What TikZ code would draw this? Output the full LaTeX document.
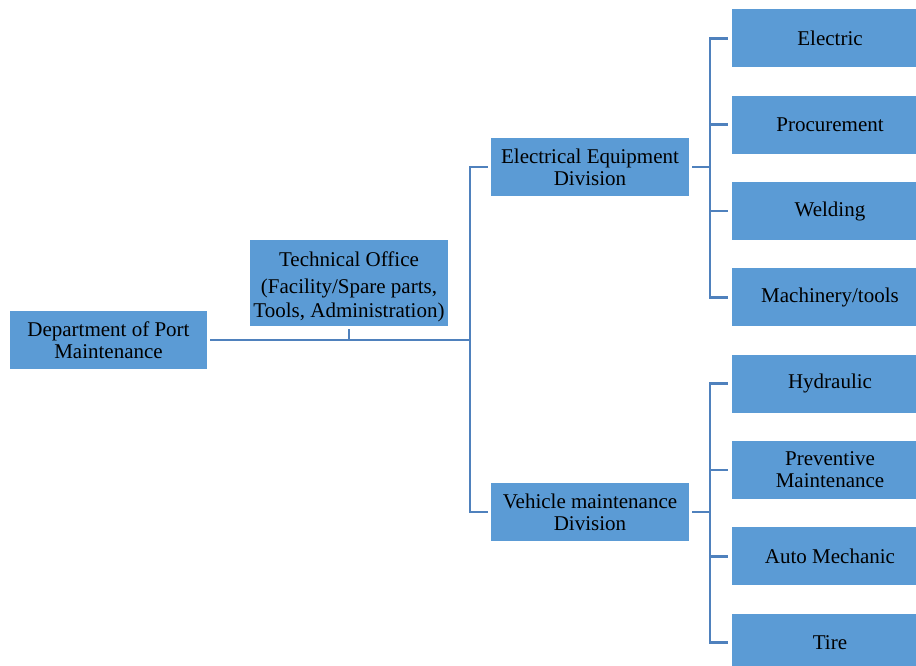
\documentclass[tikz,border=0pt]{standalone}
\usepackage{fontspec}
\setmainfont{Liberation Serif}
\definecolor{boxblue}{HTML}{5B9BD5}
\definecolor{linkblue}{HTML}{4F81BD}
\begin{document}
\begin{tikzpicture}[x=1pt,y=-1pt,
  box/.style={fill=boxblue, draw=none, inner sep=0pt, align=center,
    font=\fontsize{21}{21.8}\selectfont, text=black},
  midbox/.style={box, minimum width=198pt, minimum height=58pt},
  leafbox/.style={box, minimum width=196pt, minimum height=58pt},
  link/.style={draw=linkblue, line width=2.6pt}]
\useasboundingbox (0,0) rectangle (916,666);
\begin{scope}
\clip (0,0) rectangle (916,666);
\node[midbox, minimum width=197pt] (dept) at (108.5,340) {Department of Port\\Maintenance};
\node[midbox, minimum height=86pt] (tech) at (349,283) {\rule{0pt}{22pt}Technical Office\\[5.5pt](Facility/Spare parts,\\[1.8pt]Tools, Administration)};
\node[midbox] (elec) at (590,167) {Electrical Equipment\\Division};
\node[midbox] (veh) at (590,512) {Vehicle maintenance\\Division};
\node[leafbox] (l1) at (830,38.5) {Electric};
\node[leafbox] (l2) at (830,124.8) {Procurement};
\node[leafbox] (l3) at (830,211.1) {Welding};
\node[leafbox] (l4) at (830,297.4) {Machinery/tools};
\node[leafbox] (l5) at (830,383.7) {Hydraulic};
\node[leafbox] (l6) at (830,470) {Preventive\\Maintenance};
\node[leafbox] (l7) at (830,556.3) {Auto Mechanic};
\node[leafbox] (l8) at (830,642.6) {Tire};
\end{scope}
\coordinate (j1) at (470,340);
\coordinate (j2) at (710,167);
\coordinate (j3) at (710,512);
% main trunk
\draw[link] ([xshift=3pt]dept.east) -- (j1);
\draw[link] ([yshift=-3pt]tech.south) -- (tech.south |- j1);
\draw[link] ([xshift=-3pt]elec.west) -- (j1 |- elec) -- (j1 |- veh) -- ([xshift=-3pt]veh.west);
% electrical bracket
\draw[link] ([xshift=3pt]elec.east) -- (j2);
\draw[link] ([xshift=-4pt]l1.west) -- (j2 |- l1) -- (j2 |- l4) -- ([xshift=-4pt]l4.west);
\draw[link] ([xshift=-4pt]l2.west) -- (j2 |- l2);
\draw[link] ([xshift=-4pt]l3.west) -- (j2 |- l3);
% vehicle bracket
\draw[link] ([xshift=3pt]veh.east) -- (j3);
\draw[link] ([xshift=-4pt]l5.west) -- (j3 |- l5) -- (j3 |- l8) -- ([xshift=-4pt]l8.west);
\draw[link] ([xshift=-4pt]l6.west) -- (j3 |- l6);
\draw[link] ([xshift=-4pt]l7.west) -- (j3 |- l7);
\end{tikzpicture}
\end{document}
